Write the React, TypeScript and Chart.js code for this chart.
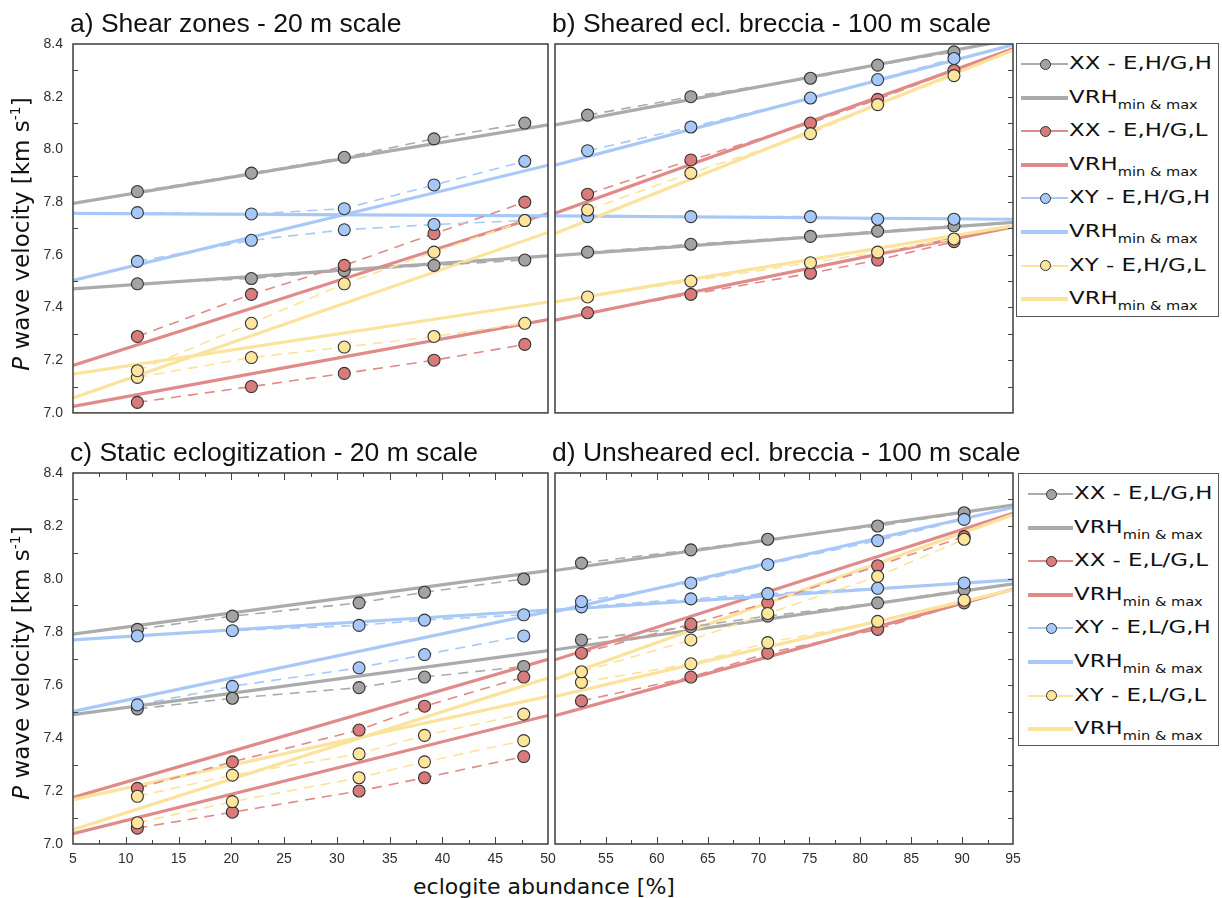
import React, { useEffect, useRef } from "react";
import { Chart, registerables } from "chart.js";
Chart.register(...registerables);

// ---------- data ----------
const xRangeLeft = [5, 50];
const xRangeRight = [50, 95];

const xA = [11.1, 21.9, 30.7, 39.2, 47.8];
const xB = [53.2, 63.35, 75.1, 81.7, 89.2];
const xC = [11.1, 20.1, 32.1, 38.3, 47.7];
const xD = [52.6, 63.35, 70.9, 81.7, 90.2];

// panel a
const aGreyHi = [7.84, 7.91, 7.97, 8.04, 8.1];
const aGreyLo = [7.49, 7.51, 7.54, 7.56, 7.58];
const aRedHi = [7.29, 7.45, 7.56, 7.68, 7.8];
const aRedLo = [7.04, 7.1, 7.15, 7.2, 7.26];
const aBlueHi = [7.76, 7.755, 7.775, 7.865, 7.955];
const aBlueLo = [7.575, 7.655, 7.695, 7.715, 7.73];
const aYelHi = [7.16, 7.34, 7.49, 7.61, 7.73];
const aYelLo = [7.135, 7.21, 7.25, 7.29, 7.34];
const aGreyVRH1 = [7.795, 8.093];
const aGreyVRH2 = [7.471, 7.596];
const aRedVRH1 = [7.18, 7.757];
const aRedVRH2 = [7.025, 7.354];
const aBlueVRH1 = [7.757, 7.748];
const aBlueVRH2 = [7.503, 7.94];
const aYelVRH1 = [7.147, 7.421];
const aYelVRH2 = [7.057, 7.685];

// panel b
const bGreyHi = [8.13, 8.2, 8.27, 8.32, 8.37];
const bGreyLo = [7.61, 7.64, 7.67, 7.69, 7.71];
const bRedHi = [7.83, 7.96, 8.1, 8.19, 8.3];
const bRedLo = [7.38, 7.45, 7.53, 7.58, 7.65];
const bBlueHi = [7.995, 8.085, 8.195, 8.265, 8.345];
const bBlueLo = [7.745, 7.745, 7.745, 7.735, 7.735];
const bYelHi = [7.77, 7.91, 8.06, 8.17, 8.28];
const bYelLo = [7.44, 7.5, 7.57, 7.61, 7.66];
const bGreyVRH1 = [8.093, 8.418];
const bGreyVRH2 = [7.597, 7.723];
const bRedVRH1 = [7.758, 8.382];
const bRedVRH2 = [7.352, 7.706];
const bBlueVRH1 = [7.94, 8.397];
const bBlueVRH2 = [7.748, 7.735];
const bYelVRH1 = [7.681, 8.376];
const bYelVRH2 = [7.421, 7.71];

// panel c
const cGreyHi = [7.81, 7.86, 7.91, 7.95, 8.0];
const cGreyLo = [7.51, 7.55, 7.59, 7.63, 7.67];
const cRedHi = [7.21, 7.31, 7.43, 7.52, 7.63];
const cRedLo = [7.06, 7.12, 7.2, 7.25, 7.33];
const cBlueHi = [7.785, 7.805, 7.825, 7.845, 7.865];
const cBlueLo = [7.525, 7.595, 7.665, 7.715, 7.785];
const cYelHi = [7.18, 7.26, 7.34, 7.41, 7.49];
const cYelLo = [7.08, 7.16, 7.25, 7.31, 7.39];
const cGreyVRH1 = [7.792, 8.032];
const cGreyVRH2 = [7.488, 7.73];
const cRedVRH1 = [7.176, 7.697];
const cRedVRH2 = [7.039, 7.485];
const cBlueVRH1 = [7.77, 7.883];
const cBlueVRH2 = [7.5, 7.877];
const cYelVRH1 = [7.167, 7.557];
const cYelVRH2 = [7.054, 7.626];

// panel d
const dGreyHi = [8.06, 8.11, 8.15, 8.2, 8.25];
const dGreyLo = [7.77, 7.82, 7.86, 7.91, 7.96];
const dRedHi = [7.72, 7.83, 7.91, 8.05, 8.16];
const dRedLo = [7.54, 7.63, 7.72, 7.81, 7.91];
const dBlueHi = [7.915, 7.985, 8.055, 8.145, 8.225];
const dBlueLo = [7.895, 7.925, 7.945, 7.965, 7.985];
const dYelHi = [7.65, 7.77, 7.87, 8.01, 8.15];
const dYelLo = [7.61, 7.68, 7.76, 7.84, 7.92];
const dGreyVRH1 = [8.032, 8.279];
const dGreyVRH2 = [7.733, 7.982];
const dRedVRH1 = [7.695, 8.248];
const dRedVRH2 = [7.484, 7.961];
const dBlueVRH1 = [7.877, 8.27];
const dBlueVRH2 = [7.883, 7.997];
const dYelVRH1 = [7.622, 8.242];
const dYelVRH2 = [7.557, 7.959];

const titles = [
  "a) Shear zones - 20 m scale",
  "b) Sheared ecl. breccia - 100 m scale",
  "c) Static eclogitization - 20 m scale",
  "d) Unsheared ecl. breccia - 100 m scale",
];
const legendTop = ["XX - E,H/G,H", "XX - E,H/G,L", "XY - E,H/G,H", "XY - E,H/G,L"];
const legendBottom = ["XX - E,L/G,H", "XX - E,L/G,L", "XY - E,L/G,H", "XY - E,L/G,L"];

const yTickOdd = [7.1, 7.3, 7.5, 7.7, 7.9, 8.1, 8.3];
const yTickAll = [7.1, 7.2, 7.3, 7.4, 7.5, 7.6, 7.7, 7.8, 7.9, 8.0, 8.1, 8.2, 8.3];
const xTickLeft = [7.5, 10, 12.5, 15, 17.5, 20, 22.5, 25, 27.5, 30, 32.5, 35, 37.5, 40, 42.5, 45, 47.5];
const xTickRight = [52.5, 55, 57.5, 60, 62.5, 65, 67.5, 70, 72.5, 75, 77.5, 80, 82.5, 85, 87.5, 90, 92.5];

// ---------- styles ----------
const COLORS = [
  { line: "#ababab", fill: "#a3a3a3" },
  { line: "#e08a8a", fill: "#d97b7b" },
  { line: "#a8c9f7", fill: "#a5c8f8" },
  { line: "#fbe39c", fill: "#fde59b" },
];
const SANS = '"DejaVu Sans", Verdana, sans-serif';
const ARIAL = '"Liberation Sans", Arial, sans-serif';

const framePlugin = {
  id: "frameTicks",
  afterDatasetsDraw(chart: any, _args: any, opts: any) {
    const { ctx, chartArea: a, scales } = chart;
    const y = scales.y;
    const x = scales.x;
    ctx.save();
    ctx.strokeStyle = "#444";
    ctx.lineWidth = 1;
    ctx.beginPath();
    (opts.left || []).forEach((v: number) => {
      const py = Math.round(y.getPixelForValue(v)) + 0.5;
      ctx.moveTo(a.left, py);
      ctx.lineTo(a.left + 5, py);
    });
    (opts.right || []).forEach((v: number) => {
      const py = Math.round(y.getPixelForValue(v)) + 0.5;
      ctx.moveTo(a.right, py);
      ctx.lineTo(a.right - 5, py);
    });
    (opts.xticks || []).forEach((v: number) => {
      const px = Math.round(x.getPixelForValue(v)) + 0.5;
      const len = v % 5 === 0 ? 7 : 4;
      ctx.moveTo(px, a.top);
      ctx.lineTo(px, a.top + len);
      ctx.moveTo(px, a.bottom);
      ctx.lineTo(px, a.bottom - len);
    });
    ctx.stroke();
    ctx.lineWidth = 1.5;
    ctx.strokeStyle = "#3c3c3c";
    ctx.strokeRect(a.left, a.top, a.right - a.left, a.bottom - a.top);
    ctx.restore();
  },
};

function vrhSet(range: number[], ys: number[], ci: number) {
  return {
    data: range.map((x, i) => ({ x, y: ys[i] })),
    borderColor: COLORS[ci].line,
    borderWidth: 3.2,
    pointRadius: 0,
    fill: false,
    order: 20 - ci,
  };
}
function ptSet(xs: number[], ys: number[], ci: number) {
  return {
    data: xs.map((x, i) => ({ x, y: ys[i] })),
    borderColor: COLORS[ci].line,
    borderWidth: 1.6,
    borderDash: [10, 7],
    pointRadius: 6,
    pointBackgroundColor: COLORS[ci].fill,
    pointBorderColor: "#333",
    pointBorderWidth: 1.1,
    fill: false,
    order: 10 - ci,
  };
}

type PanelProps = {
  xs: number[];
  range: number[];
  series: number[][][]; // per color: [hi, lo, vrh1, vrh2]
  left: number;
  top: number;
  width: number;
  height: number;
  pad: { left: number; right: number; top: number; bottom: number };
  showY: boolean;
  showX: boolean;
  skipFirstX?: boolean;
  ticks: any;
};

function Panel(p: PanelProps) {
  const ref = useRef<HTMLCanvasElement>(null);
  useEffect(() => {
    if (!ref.current) return;
    const datasets: any[] = [];
    p.series.forEach((s, ci) => {
      datasets.push(vrhSet(p.range, s[2], ci));
      datasets.push(vrhSet(p.range, s[3], ci));
      datasets.push(ptSet(p.xs, s[0], ci));
      datasets.push(ptSet(p.xs, s[1], ci));
    });
    const chart = new Chart(ref.current, {
      type: "line",
      data: { datasets },
      plugins: [framePlugin as any],
      options: {
        animation: false,
        responsive: false,
        devicePixelRatio: 1,
        layout: { padding: p.pad },
        plugins: {
          legend: { display: false },
          tooltip: { enabled: false },
          frameTicks: p.ticks,
        } as any,
        scales: {
          x: {
            type: "linear",
            min: p.range[0],
            max: p.range[1],
            display: p.showX,
            afterFit: (s: any) => {
              s.height = p.showX ? 26 : 0;
              s.paddingLeft = 0;
              s.paddingRight = 0;
            },
            grid: { display: false, drawTicks: false, tickLength: 0 },
            border: { display: false },
            ticks: {
              stepSize: 5,
              padding: 7,
              color: "#2e2e2e",
              maxRotation: 0,
              font: { family: ARIAL, size: 14 },
              callback: (v: any) => {
                const n = Math.round(Number(v));
                if (p.skipFirstX && n === p.range[0]) return "";
                return String(n);
              },
            },
          },
          y: {
            type: "linear",
            min: 7,
            max: 8.4,
            display: p.showY,
            afterFit: (s: any) => {
              s.width = p.showY ? 73 : 0;
              s.paddingTop = 0;
              s.paddingBottom = 0;
            },
            grid: { display: false, drawTicks: false, tickLength: 0 },
            border: { display: false },
            ticks: {
              stepSize: 0.2,
              padding: 10,
              color: "#2e2e2e",
              font: { family: ARIAL, size: 14 },
              callback: (v: any) => Number(v).toFixed(1),
            },
          },
        },
      } as any,
    });
    return () => chart.destroy();
  }, []);
  return (
    <canvas
      ref={ref}
      width={p.width}
      height={p.height}
      style={{ position: "absolute", left: p.left, top: p.top, width: p.width, height: p.height }}
    />
  );
}

function Legend({ left, top, width, height, labels, lineX0, lineX1, circleX, textX }: any) {
  const rows: any[] = [];
  labels.forEach((lab: string, ci: number) => {
    rows.push({ kind: "pt", lab, ci });
    rows.push({ kind: "vrh", lab: "VRH", ci });
  });
  return (
    <div
      style={{
        position: "absolute",
        left,
        top,
        width,
        height,
        border: "1.3px solid #555",
        background: "#fff",
        boxSizing: "border-box",
      }}
    >
      {rows.map((r, i) => {
        const cy = 20 + i * 33.6;
        return (
          <React.Fragment key={i}>
            <div
              style={{
                position: "absolute",
                left: lineX0,
                width: lineX1 - lineX0,
                top: cy - (r.kind === "pt" ? 1 : 2),
                height: r.kind === "pt" ? 2 : 4,
                background: COLORS[r.ci].line,
              }}
            />
            {r.kind === "pt" && (
              <div
                style={{
                  position: "absolute",
                  left: circleX - 5.5,
                  top: cy - 5.5,
                  width: 11,
                  height: 11,
                  borderRadius: "50%",
                  background: COLORS[r.ci].fill,
                  border: "1px solid #333",
                  boxSizing: "border-box",
                }}
              />
            )}
            <div
              style={{
                position: "absolute",
                left: textX,
                top: cy - 12,
                height: 24,
                lineHeight: "24px",
                whiteSpace: "nowrap",
                font: `18px ${SANS}`,
                color: "#111",
                transform: "scaleX(1.27)",
                transformOrigin: "left center",
              }}
            >
              {r.kind === "pt" ? (
                r.lab
              ) : (
                <>
                  VRH
                  <span style={{ fontSize: 11.5, position: "relative", top: 6 }}>min &amp; max</span>
                </>
              )}
            </div>
          </React.Fragment>
        );
      })}
    </div>
  );
}

export default function App() {
  const sA = [
    [aGreyHi, aGreyLo, aGreyVRH1, aGreyVRH2],
    [aRedHi, aRedLo, aRedVRH1, aRedVRH2],
    [aBlueHi, aBlueLo, aBlueVRH1, aBlueVRH2],
    [aYelHi, aYelLo, aYelVRH1, aYelVRH2],
  ];
  const sB = [
    [bGreyHi, bGreyLo, bGreyVRH1, bGreyVRH2],
    [bRedHi, bRedLo, bRedVRH1, bRedVRH2],
    [bBlueHi, bBlueLo, bBlueVRH1, bBlueVRH2],
    [bYelHi, bYelLo, bYelVRH1, bYelVRH2],
  ];
  const sC = [
    [cGreyHi, cGreyLo, cGreyVRH1, cGreyVRH2],
    [cRedHi, cRedLo, cRedVRH1, cRedVRH2],
    [cBlueHi, cBlueLo, cBlueVRH1, cBlueVRH2],
    [cYelHi, cYelLo, cYelVRH1, cYelVRH2],
  ];
  const sD = [
    [dGreyHi, dGreyLo, dGreyVRH1, dGreyVRH2],
    [dRedHi, dRedLo, dRedVRH1, dRedVRH2],
    [dBlueHi, dBlueLo, dBlueVRH1, dBlueVRH2],
    [dYelHi, dYelLo, dYelVRH1, dYelVRH2],
  ];
  const titleStyle = (left: number, top: number): React.CSSProperties => ({
    position: "absolute",
    left,
    top,
    font: `26.5px ${ARIAL}`,
    lineHeight: "26px",
    color: "#111",
    whiteSpace: "nowrap",
  });
  const yTitle = (cy: number) => (
    <div
      style={{
        position: "absolute",
        left: 22,
        top: cy,
        transform: "translate(-50%, -50%) rotate(-90deg)",
        whiteSpace: "nowrap",
        font: `23px ${SANS}`,
        lineHeight: "28px",
        color: "#111",
      }}
    >
      <i>P</i> wave velocity [km s<span style={{ fontSize: 14, position: "relative", top: -9 }}>-1</span>]
    </div>
  );
  return (
    <div style={{ position: "absolute", left: 0, top: 0, width: 1222, height: 898, background: "#fff", overflow: "hidden" }}>
      <Panel xs={xA} range={xRangeLeft} series={sA} left={0} top={0} width={562} height={420}
        pad={{ left: 0, right: 14, top: 44, bottom: 5 }} showY={true} showX={false}
        ticks={{ left: yTickOdd }} />
      <Panel xs={xB} range={xRangeRight} series={sB} left={542} top={0} width={480} height={420}
        pad={{ left: 13, right: 9, top: 44, bottom: 5 }} showY={false} showX={false}
        ticks={{ right: yTickAll }} />
      <Panel xs={xC} range={xRangeLeft} series={sC} left={0} top={430} width={562} height={440}
        pad={{ left: 0, right: 14, top: 43, bottom: 0 }} showY={true} showX={true}
        ticks={{ left: yTickOdd, xticks: xTickLeft }} />
      <Panel xs={xD} range={xRangeRight} series={sD} left={542} top={430} width={480} height={440}
        pad={{ left: 13, right: 9, top: 43, bottom: 0 }} showY={false} showX={true} skipFirstX={true}
        ticks={{ right: yTickAll, xticks: xTickRight }} />

      <div style={titleStyle(70, 10)}>{titles[0]}</div>
      <div style={titleStyle(552, 10)}>{titles[1]}</div>
      <div style={titleStyle(70, 439)}>{titles[2]}</div>
      <div style={titleStyle(552, 439)}>{titles[3]}</div>

      {yTitle(234)}
      {yTitle(663)}

      <div
        style={{
          position: "absolute",
          left: 544,
          top: 886,
          transform: "translate(-50%, -50%)",
          whiteSpace: "nowrap",
          font: `22px ${SANS}`,
          color: "#111",
        }}
      >
        eclogite abundance [%]
      </div>

      <Legend left={1016} top={43} width={203} height={274} labels={legendTop}
        lineX0={4} lineX1={51} circleX={28} textX={52} />
      <Legend left={1018} top={473} width={201} height={273} labels={legendBottom}
        lineX0={9} lineX1={54} circleX={32} textX={55} />
    </div>
  );
}
